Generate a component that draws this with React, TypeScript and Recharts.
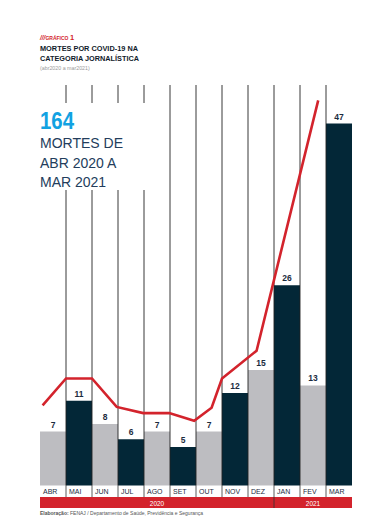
import React from "react";
import {
  ComposedChart, Bar, Cell, LabelList, XAxis, YAxis,
  LineChart, Line, ReferenceLine,
} from "recharts";

// months (Apr 2020 - Mar 2021) and deaths per month
const months = ["ABR", "MAI", "JUN", "JUL", "AGO", "SET", "OUT", "NOV", "DEZ", "JAN", "FEV", "MAR"];
const deaths = [7, 11, 8, 6, 7, 5, 7, 12, 15, 26, 13, 47];

// red trend line, x in month units from the left edge
const trendX = [0.1, 1, 2, 2.95, 3.97, 4.97, 5.93, 6.6, 7, 8.33, 10.7];
const trendY = [10.4, 13.9, 13.9, 10.2, 9.4, 9.4, 8.4, 10.1, 13.9, 17.5, 50];

const years = ["2020", "2021"];
const yearSpan = [9, 3];

const W = 390;
const H = 518;
const LEFT = 40;
const RIGHT = 38;
const TOP = 85;
const AXIS_H = 22;
const BOTTOM = 10.5;
const COL_W = (W - LEFT - RIGHT) / months.length;
const Y_MAX = 52;

const GRAY = "#bdbdc1";
const DARK = "#032737";
const RED = "#d3232c";
const NAVY = "#1b2b3e";
const FONT = "'Liberation Sans', Arial, sans-serif";

const barData = months.map((m, i) => ({ m, v: deaths[i] }));
const lineData = trendX.map((u, i) => ({ u, v: trendY[i] }));

function MonthTick(props: any) {
  const { x, y, payload } = props;
  const left = x - COL_W / 2;
  return (
    <g>
      <text x={left + 3} y={y + 8.5} fontSize={7} fill={NAVY} fontFamily={FONT}>
        {payload.value}
      </text>
      {payload.index > 0 && (
        <line x1={left} x2={left} y1={y} y2={y + 11.5} stroke="#333" strokeWidth={0.8} />
      )}
    </g>
  );
}

export default function App() {
  const plotBottom = H - BOTTOM - AXIS_H;
  let acc = 0;
  return (
    <div style={{ position: "absolute", left: 0, top: 0, width: W, height: H, background: "#fff" }}>
      <div style={{ position: "absolute", left: 0, top: 0 }}>
        <ComposedChart
          width={W}
          height={H}
          data={barData}
          barCategoryGap={0}
          margin={{ top: TOP, right: RIGHT, bottom: BOTTOM, left: LEFT }}
        >
          <XAxis
            dataKey="m"
            height={AXIS_H}
            axisLine={false}
            tickLine={false}
            tickSize={0}
            tickMargin={0}
            interval={0}
            tick={<MonthTick />}
          />
          <YAxis hide domain={[0, Y_MAX]} />
          <Bar dataKey="v" isAnimationActive={false}>
            {barData.map((d, i) => (
              <Cell key={d.m} fill={i % 2 ? DARK : GRAY} />
            ))}
            <LabelList
              dataKey="v"
              position="top"
              offset={4}
              fontSize={8.5}
              fontWeight="bold"
              fill={NAVY}
              fontFamily={FONT}
            />
          </Bar>
        </ComposedChart>
      </div>

      <div style={{ position: "absolute", left: 0, top: 0, pointerEvents: "none" }}>
        <LineChart
          width={W}
          height={H}
          data={lineData}
          margin={{ top: TOP, right: RIGHT, bottom: H - plotBottom, left: LEFT }}
        >
          <XAxis type="number" dataKey="u" domain={[0, months.length]} hide />
          <YAxis hide domain={[0, Y_MAX]} />
          {months.slice(1).map((m, i) => (
            <ReferenceLine key={m} x={i + 1} stroke="#222" strokeWidth={0.9} />
          ))}
          <Line
            type="linear"
            dataKey="v"
            stroke={RED}
            strokeWidth={2.6}
            dot={false}
            isAnimationActive={false}
          />
        </LineChart>
      </div>

      <svg width={W} height={H} style={{ position: "absolute", left: 0, top: 0 }} fontFamily={FONT}>
        <rect x={LEFT - 1} y={103} width={122} height={87} fill="#fff" />

        <text x={40} y={40} fill={RED} fontWeight="bold">
          <tspan fontSize={6.5} fontStyle="italic">///</tspan>
          <tspan fontSize={5}>GRÁFICO </tspan>
          <tspan fontSize={7.5}>1</tspan>
        </text>
        <text x={40} y={50.7} fontSize={8} fontWeight="bold" fill="#101b2b" textLength={98} lengthAdjust="spacingAndGlyphs">
          MORTES POR COVID-19 NA
        </text>
        <text x={40} y={60.7} fontSize={8} fontWeight="bold" fill="#101b2b" textLength={99} lengthAdjust="spacingAndGlyphs">
          CATEGORIA JORNALÍSTICA
        </text>
        <text x={40} y={69.5} fontSize={5.3} fill="#9a9a9a">(abr2020 a mar2021)</text>

        <text x={40} y={129} fontSize={24} fontWeight="bold" fill="#12a2e2" textLength={34} lengthAdjust="spacingAndGlyphs">
          164
        </text>
        <text x={40} y={148.3} fontSize={14} fill="#233d5c">MORTES DE</text>
        <text x={40} y={167.5} fontSize={14} fill="#233d5c">ABR 2020 A</text>
        <text x={40} y={186.7} fontSize={14} fill="#233d5c">MAR 2021</text>

        {years.map((yr, i) => {
          const x0 = LEFT + acc * COL_W;
          acc += yearSpan[i];
          const w = yearSpan[i] * COL_W;
          return (
            <g key={yr}>
              <rect x={x0} y={497} width={w} height={11} fill={RED} />
              {i > 0 && <line x1={x0} x2={x0} y1={497} y2={508} stroke="#333" strokeWidth={0.8} />}
              <text x={x0 + w / 2} y={505.5} fontSize={6.5} fill="#fff" textAnchor="middle">
                {yr}
              </text>
            </g>
          );
        })}

        <text x={40} y={514.5} fontSize={5} fill="#555">
          <tspan fontWeight="bold">Elaboração:</tspan> FENAJ / Departamento de Saúde, Previdência e Segurança
        </text>
      </svg>
    </div>
  );
}
